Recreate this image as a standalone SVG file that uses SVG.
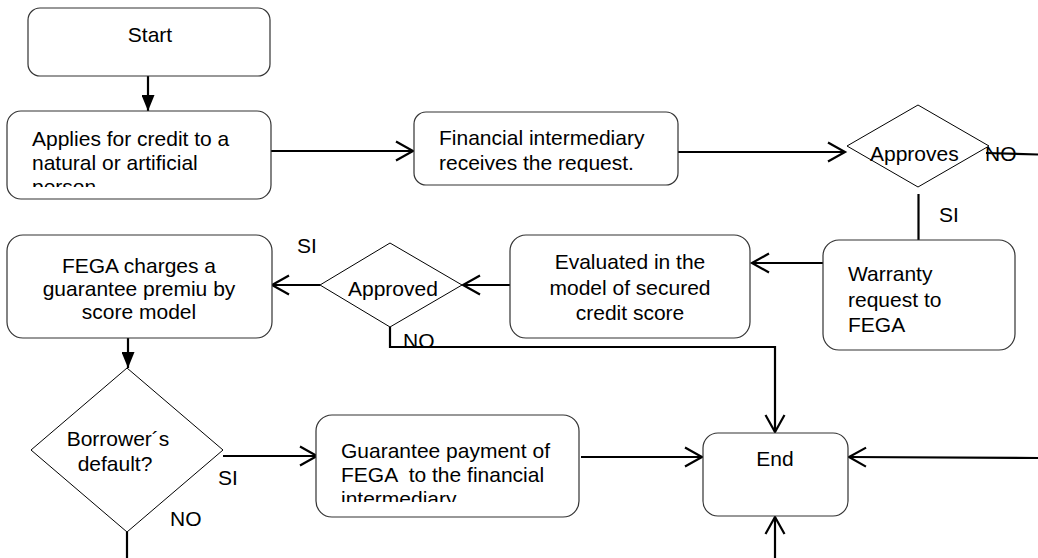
<svg xmlns="http://www.w3.org/2000/svg" width="1038" height="558" viewBox="0 0 1038 558">
<style>
.box{fill:#fff;stroke:#333;stroke-width:1.2}
.dia{fill:#fff;stroke:#000;stroke-width:1}
.t{font-family:"Liberation Sans",Arial,sans-serif;font-size:21px;fill:#000}
.m{text-anchor:middle}
.c{stroke:#000;stroke-width:2.2;fill:none}
.o{marker-end:url(#open)}
.f{marker-end:url(#fill)}
</style>
<defs>
<marker id="open" markerUnits="userSpaceOnUse" markerWidth="22" markerHeight="22" viewBox="0 0 22 22" refX="19" refY="11" orient="auto">
<path d="M2,1.5 L19,11 L2,20.5" fill="none" stroke="#000" stroke-width="2.2"/>
</marker>
<marker id="fill" markerUnits="userSpaceOnUse" markerWidth="16" markerHeight="13" viewBox="0 0 16 13" refX="16" refY="6.5" orient="auto">
<path d="M0,0 L16,6.5 L0,13 Z" fill="#000"/>
</marker>
<clipPath id="clipA"><rect x="7" y="111" width="264" height="76"/></clipPath>
<clipPath id="clipF"><rect x="414" y="112" width="264" height="60"/></clipPath>
<clipPath id="clipG"><rect x="316" y="415" width="263" height="87"/></clipPath>
<filter id="sh" x="-10%" y="-200%" width="120%" height="500%"><feGaussianBlur stdDeviation="2"/></filter>
</defs>

<g id="connectors">
<line x1="584" y1="460" x2="700" y2="460" stroke="#888" stroke-width="3" opacity="0.5" filter="url(#sh)"/>
<line class="c f" x1="148" y1="76" x2="148" y2="111"/>
<line class="c o" x1="271" y1="151" x2="413" y2="151"/>
<line class="c o" x1="678" y1="152" x2="845" y2="152"/>
<line class="c" x1="986" y1="153" x2="1038" y2="154.5"/>
<line class="c" x1="918.5" y1="194" x2="918.5" y2="240"/>
<line class="c o" x1="823" y1="263" x2="752" y2="263"/>
<line class="c o" x1="510" y1="285" x2="463" y2="285"/>
<line class="c o" x1="320" y1="285" x2="272" y2="285"/>
<polyline class="c o" points="390,327 390,347 775,347 775,432"/>
<line class="c f" x1="128" y1="338" x2="128" y2="368"/>
<line class="c o" x1="223" y1="456" x2="317" y2="456"/>
<line class="c o" x1="581" y1="457" x2="702" y2="457"/>
<line class="c o" x1="1038" y1="458" x2="849" y2="457"/>
<line class="c o" x1="775" y1="558" x2="775" y2="517"/>
<line class="c" x1="127" y1="532" x2="127" y2="558"/>
<text class="t" x="985" y="161">NO</text>
<text class="t" x="939" y="222">SI</text>
<text class="t" x="297" y="253">SI</text>
<text class="t" x="403" y="348">NO</text>
<text class="t" x="218" y="485">SI</text>
<text class="t" x="170" y="526">NO</text>
</g>

<g id="start">
<rect class="box" x="28" y="8" width="242" height="68" rx="12"/>
<text class="t m" x="150" y="42">Start</text>
</g>

<g id="applies">
<rect class="box" x="7" y="111" width="264" height="88" rx="14"/>
<g clip-path="url(#clipA)">
<text class="t" x="32" y="146">Applies for credit to a</text>
<text class="t" x="32" y="170">natural or artificial</text>
<text class="t" x="32" y="194">person</text>
</g>
</g>

<g id="financial">
<rect class="box" x="414" y="112" width="264" height="73" rx="12"/>
<g clip-path="url(#clipF)">
<text class="t" x="439" y="145">Financial intermediary</text>
<text class="t" x="439" y="170">receives the request.</text>
</g>
</g>

<g id="approves">
<polygon class="dia" points="847,146 918,105 989,146 918,187"/>
<text class="t" x="870" y="161">Approves</text>
</g>

<g id="warranty">
<rect class="box" x="823" y="240" width="192" height="110" rx="16"/>
<text class="t" x="848" y="281">Warranty</text>
<text class="t" x="848" y="307">request to</text>
<text class="t" x="848" y="332">FEGA</text>
</g>

<g id="evaluated">
<rect class="box" x="510" y="235" width="240" height="103" rx="16"/>
<text class="t m" x="630" y="269">Evaluated in the</text>
<text class="t m" x="630" y="295">model of secured</text>
<text class="t m" x="630" y="320">credit score</text>
</g>

<g id="approved">
<polygon class="dia" points="320,285 390,243 462,285 390,327"/>
<text class="t" x="348" y="296">Approved</text>
</g>

<g id="fega">
<rect class="box" x="7" y="235" width="265" height="103" rx="16"/>
<text class="t m" x="139" y="273">FEGA charges a</text>
<text class="t m" x="139" y="296">guarantee premiu by</text>
<text class="t m" x="139" y="319">score model</text>
</g>

<g id="borrower">
<polygon class="dia" points="31,450 127,368 223,450 127,532"/>
<text class="t m" x="118" y="446">Borrower´s</text>
<text class="t m" x="115" y="471">default?</text>
</g>

<g id="guarantee">
<rect class="box" x="316" y="415" width="263" height="102" rx="16"/>
<g clip-path="url(#clipG)">
<text class="t" x="341" y="458">Guarantee payment of</text>
<text class="t" x="341" y="482" xml:space="preserve">FEGA  to the financial</text>
<text class="t" x="341" y="506">intermediary</text>
</g>
</g>

<g id="end">
<rect class="box" x="703" y="433" width="145" height="83" rx="15"/>
<text class="t m" x="775" y="466">End</text>
</g>
</svg>
